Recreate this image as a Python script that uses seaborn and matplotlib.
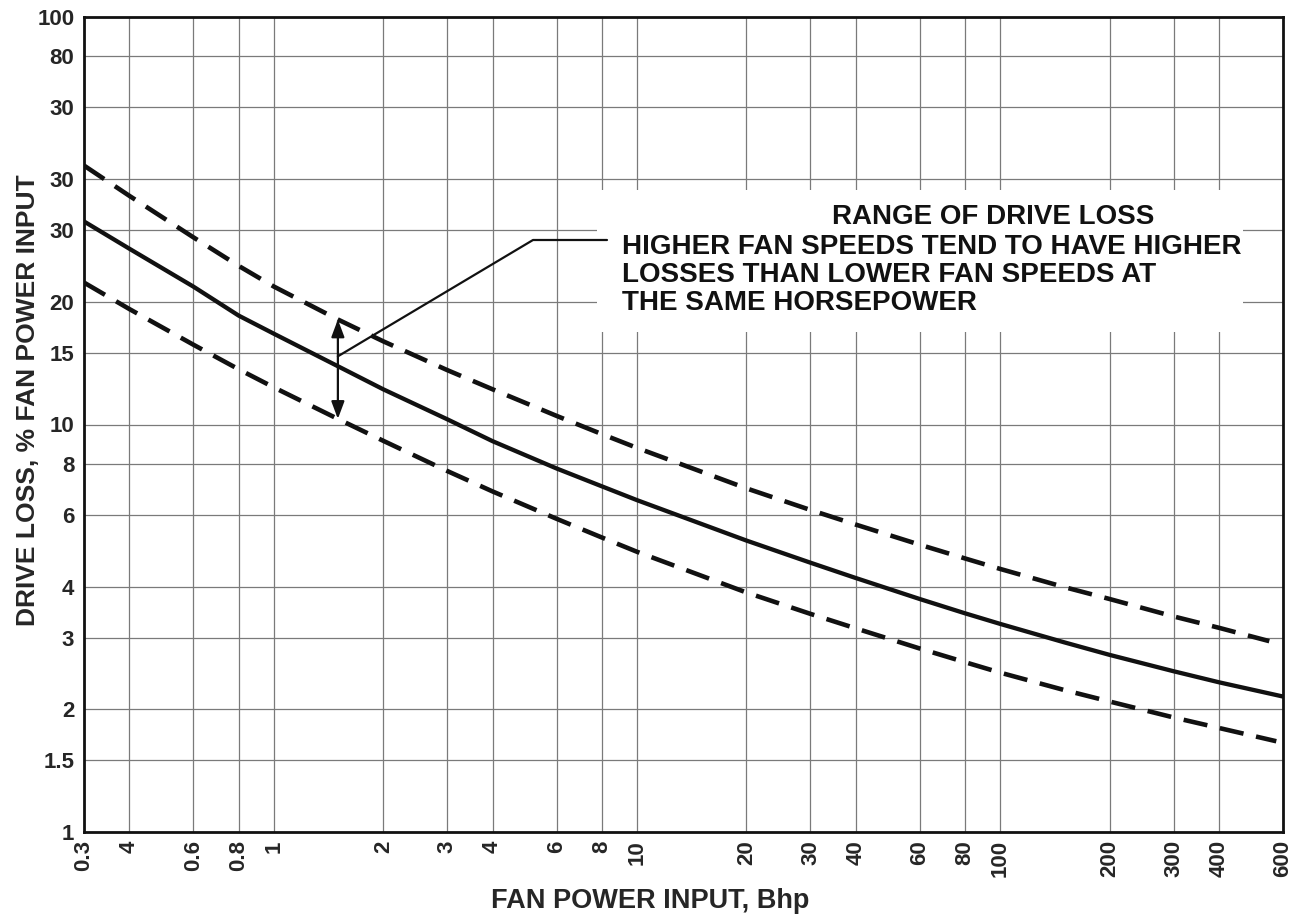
import pandas as pd
import matplotlib.pyplot as plt
import matplotlib.patches as mpatches
import seaborn as sns

# fan power input, Bhp
hp_mid = [0.3, 0.4, 0.6, 0.8, 1, 1.5, 2, 3, 4, 6, 8, 10, 20, 30, 40, 60, 80, 100, 150, 200, 300, 400, 600]
hp_high = [0.3, 0.4, 0.6, 0.8, 1, 1.5, 2, 3, 4, 6, 8, 10, 20, 30, 40, 60, 80, 100, 150, 200, 300, 400, 550]
hp_low = [0.3, 0.4, 0.6, 0.8, 1, 1.5, 2, 3, 4, 6, 8, 10, 20, 30, 40, 60, 80, 100, 150, 200, 300, 400, 575]

# drive loss, % of fan power input
loss_mid = [31.5, 27.0, 21.8, 18.5, 16.7, 13.9, 12.2, 10.3, 9.1, 7.8, 7.05, 6.52, 5.19, 4.58, 4.2,
            3.73, 3.44, 3.24, 2.92, 2.72, 2.48, 2.33, 2.15]
loss_high = [43.2, 36.4, 28.8, 24.5, 21.8, 18.1, 16.0, 13.6, 12.2, 10.5, 9.47, 8.76, 6.97, 6.17, 5.68,
             5.07, 4.69, 4.42, 3.99, 3.73, 3.38, 3.17, 2.94]
loss_low = [22.3, 19.2, 15.7, 13.66, 12.33, 10.32, 9.12, 7.69, 6.85, 5.87, 5.28, 4.87, 3.87, 3.43, 3.16,
            2.82, 2.61, 2.46, 2.23, 2.09, 1.91, 1.8, 1.67]

x_ticks = [0.3, 0.4, 0.6, 0.8, 1, 2, 3, 4, 6, 8, 10, 20, 30, 40, 60, 80, 100, 200, 300, 400, 600]
x_labels = ["0.3", "4", "0.6", "0.8", "1", "2", "3", "4", "6", "8", "10", "20", "30", "40",
            "60", "80", "100", "200", "300", "400", "600"]
y_ticks = [1, 1.5, 2, 3, 4, 6, 8, 10, 15, 20, 30, 40, 60, 80, 100]
y_labels = ["1", "1.5", "2", "3", "4", "6", "8", "10", "15", "20", "30", "30", "30", "80", "100"]

note_title = "RANGE OF DRIVE LOSS"
note_lines = ["HIGHER FAN SPEEDS TEND TO HAVE HIGHER",
              "LOSSES THAN LOWER FAN SPEEDS AT",
              "THE SAME HORSEPOWER"]
arrow_hp = 1.5

sns.set_style("white")
plt.rcParams['font.family'] = ['Liberation Sans', 'DejaVu Sans']
plt.rcParams['font.weight'] = 'bold'

W, H = 1301, 916
fig = plt.figure(figsize=(W / 100, H / 100), dpi=100)
ax = fig.add_axes([84 / W, 1 - 832 / H, (1283 - 84) / W, (832 - 17) / H])
ax.set_xscale('log')
ax.set_yscale('log')

df_mid = pd.DataFrame({'hp': hp_mid, 'loss': loss_mid})
df_high = pd.DataFrame({'hp': hp_high, 'loss': loss_high})
df_low = pd.DataFrame({'hp': hp_low, 'loss': loss_low})

dash = (0, (5.3, 2.8))
sns.lineplot(data=df_mid, x='hp', y='loss', ax=ax, color='#111111', lw=3.1, zorder=3)
sns.lineplot(data=df_high, x='hp', y='loss', ax=ax, color='#111111', lw=3.3, linestyle=dash, zorder=3)
sns.lineplot(data=df_low, x='hp', y='loss', ax=ax, color='#111111', lw=3.3, linestyle=dash, zorder=3)

ax.set_xlim(0.3, 600)
ax.set_ylim(1, 100)
ax.set_xticks(x_ticks, x_labels)
ax.set_yticks(y_ticks, y_labels)
ax.minorticks_off()
ax.set_axisbelow(True)
ax.grid(True, which='major', color='#7a7a7a', lw=0.9)

ax.tick_params(axis='both', length=0, labelsize=16)
ax.tick_params(axis='x', pad=6, labelrotation=90)
ax.tick_params(axis='y', pad=7)
for s in ax.spines.values():
    s.set_linewidth(2.0)
    s.set_color('#111111')

ax.set_xlabel("FAN POWER INPUT, Bhp", fontsize=19.5, fontweight='bold', va='baseline')
ax.xaxis.set_label_coords((650 - 84) / 1199, (832 - 908) / 815)
ax.set_ylabel("DRIVE LOSS, % FAN POWER INPUT", fontsize=19, fontweight='bold', va='baseline')
ax.yaxis.set_label_coords((35 - 84) / 1199, (832 - 400) / 815)

# white panel behind the note (hides the grid there)
ax.add_patch(mpatches.Rectangle((0.428, 0.6135), 0.539, 0.1745, transform=ax.transAxes,
                                facecolor='white', edgecolor='none', zorder=1))

# range arrow between the two dashed curves
i = hp_mid.index(arrow_hp)
ax.annotate('', xy=(arrow_hp, loss_high[i]), xytext=(arrow_hp, loss_low[i]),
            arrowprops=dict(arrowstyle='<|-|>,head_length=0.75,head_width=0.28', mutation_scale=14,
                            lw=1.6, color='#111111', shrinkA=0, shrinkB=0), zorder=4)
# leader line to the note
ax.annotate('', xy=(arrow_hp, 14.7), xycoords='data',
            xytext=((607 - 84) / 1199, (832 - 240) / 815), textcoords='axes fraction',
            arrowprops=dict(arrowstyle='-', connectionstyle='angle,angleA=0,angleB=30.8,rad=0',
                            lw=1.6, color='#111111', shrinkA=0, shrinkB=0), zorder=4)

ax.text((832 - 84) / 1199, (832 - 223.5) / 815, note_title, transform=ax.transAxes,
        fontsize=20, fontweight='bold', va='baseline', ha='left', color='#111111', zorder=5)
for k, line in enumerate(note_lines):
    yb = [253.5, 281.5, 310.5][k]
    ax.text((622 - 84) / 1199, (832 - yb) / 815, line, transform=ax.transAxes,
            fontsize=20, fontweight='bold', va='baseline', ha='left', color='#111111', zorder=5)

fig.savefig('out.png', dpi=100)
